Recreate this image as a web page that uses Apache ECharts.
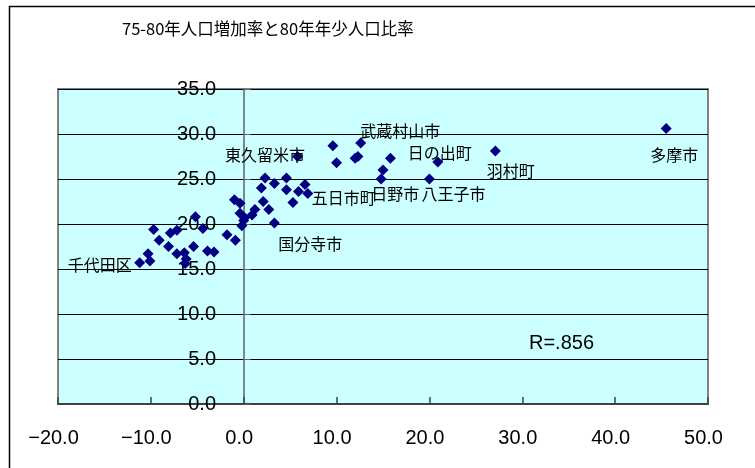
<!DOCTYPE html>
<html>
<head>
<meta charset="utf-8">
<script src="https://cdn.jsdelivr.net/npm/echarts@6/dist/echarts.min.js"></script>
<style>
  html, body { margin: 0; padding: 0; background: #ffffff; }
  #chart { width: 755px; height: 468px; }
</style>
</head>
<body>
<div id="chart"></div>
<script>
// 1975-80 population growth rate (%) per municipality
const growth = [
  -11.2, -10.3, -10.1, -9.7, -9.1, -8.1, -7.9, -7.2, -7.2, -6.4,
  -6.2, -6.3, -5.4, -5.2, -4.4, -3.9, -3.2, -1.8, -0.9, -1.0,
  -0.4, -0.4, -0.2, 0.0, 0.1, 0.9, 1.2, 1.9, 2.3, 2.1,
  2.7, 3.3, 3.3, 4.6, 4.6, 5.3, 5.8, 6.6, 5.9, 6.9,
  9.6, 10.0, 12.0, 12.3, 12.6, 15.0, 14.8, 15.8, 20.0, 20.9,
  27.1, 45.5
];
// 1980 share of the young population (%)
const youth = [
  15.7, 16.7, 15.9, 19.4, 18.2, 17.5, 19.0, 19.3, 16.7, 16.8,
  16.1, 15.6, 17.5, 20.8, 19.5, 17.0, 16.9, 18.8, 18.2, 22.7,
  22.3, 21.2, 19.8, 20.4, 20.7, 21.0, 21.6, 24.0, 25.1, 22.5,
  21.6, 24.5, 20.1, 25.1, 23.8, 22.4, 27.5, 24.4, 23.6, 23.4,
  28.7, 26.8, 27.3, 27.5, 29.0, 26.0, 25.0, 27.3, 25.0, 26.9,
  28.1, 30.6
];
// Names shown next to selected points ('' = unlabelled)
const names = [
  '千代田区', '', '', '', '', '', '', '', '', '',
  '', '', '', '', '', '', '', '', '', '',
  '', '', '', '', '', '', '', '', '', '',
  '', '', '国分寺市', '', '', '', '東久留米市', '', '', '五日市町',
  '', '', '', '', '武蔵村山市', '', '日野市', '', '八王子市', '日の出町',
  '羽村町', '多摩市'
];
const xTicks = [-20, 50, 10];   // min, max, step
const yTicks = [0, 35, 5];
const titleText = '75-80年人口増加率と80年年少人口比率';
const noteText = 'R=.856';

// label anchor offsets from the marker centre: [dx, dy, align]
const labelPlacement = {
  '千代田区': [-8, 2, 'right'],
  '国分寺市': [4, 21, 'left'],
  '東久留米市': [7.5, -1.5, 'right'],
  '五日市町': [4, 4.5, 'left'],
  '武蔵村山市': [-0.5, -12.5, 'left'],
  '日野市': [-10, 15, 'left'],
  '八王子市': [-8, 15, 'left'],
  '日の出町': [2, -9, 'center'],
  '羽村町': [-8.5, 20, 'left'],
  '多摩市': [-16, 26, 'left']
};

const markSize = 11;
const numFont = '"Liberation Sans", Arial, sans-serif';
const jpFont = '"Noto Sans CJK JP", sans-serif';

const points = growth.map((g, i) => {
  const item = { value: [g, youth[i]], name: names[i] };
  const p = labelPlacement[names[i]];
  if (p) {
    item.label = {
      show: true,
      formatter: '{b}',
      position: [markSize / 2 + p[0], markSize / 2 + p[1]],
      align: p[2],
      verticalAlign: 'middle',
      color: '#000000',
      fontFamily: jpFont,
      fontSize: 16
    };
  }
  return item;
});

const chart = echarts.init(document.getElementById('chart'), null, { renderer: 'canvas' });
chart.setOption({
  animation: false,
  backgroundColor: '#ffffff',
  title: {
    text: titleText,
    left: 117,
    top: 15,
    textStyle: { fontFamily: jpFont, fontSize: 16.5, fontWeight: 'normal', color: '#000000' }
  },
  grid: {
    left: 58, right: 47, top: 89, bottom: 64,
    outerBoundsMode: 'none',
    containLabel: false,
    show: true,
    backgroundColor: '#ccffff',
    borderColor: '#808080',
    borderWidth: 2
  },
  xAxis: {
    type: 'value',
    min: xTicks[0], max: xTicks[1], interval: xTicks[2],
    axisLine: { onZero: false, lineStyle: { color: '#404040', width: 2 } },
    axisTick: { show: true, inside: true, length: 7, lineStyle: { color: '#404040', width: 1.5 } },
    splitLine: { show: false },
    axisLabel: {
      margin: 24,
      padding: [0, 9, 0, 0],
      fontFamily: numFont, fontSize: 20, color: '#000000',
      formatter: v => v.toFixed(1).replace('-', '\u2212')
    }
  },
  yAxis: {
    type: 'value',
    min: yTicks[0], max: yTicks[1], interval: yTicks[2],
    axisLine: { onZero: true, lineStyle: { color: '#606060', width: 1.5 } },
    axisTick: { show: true, inside: true, length: 7, lineStyle: { color: '#606060', width: 1 } },
    splitLine: { show: true, lineStyle: { color: '#000000', width: 1 } },
    axisLabel: {
      // the value labels sit just left of the zero line
      margin: -158,
      fontFamily: numFont, fontSize: 20, color: '#000000',
      formatter: v => v.toFixed(1)
    }
  },
  series: [{
    type: 'scatter',
    symbol: 'diamond',
    symbolSize: markSize,
    itemStyle: { color: '#000080', opacity: 1 },
    data: points,
    z: 5
  }],
  graphic: [
    {
      type: 'rect',
      left: 7, top: 4,
      shape: { width: 800, height: 500 },
      style: { fill: 'none', stroke: '#000000', lineWidth: 1.5 },
      z: 100
    },
    {
      type: 'text',
      x: 529, y: 343,
      style: {
        text: noteText,
        fontFamily: numFont, fontSize: 20, fill: '#000000',
        textVerticalAlign: 'middle'
      },
      z: 100
    }
  ]
});
</script>
</body>
</html>
